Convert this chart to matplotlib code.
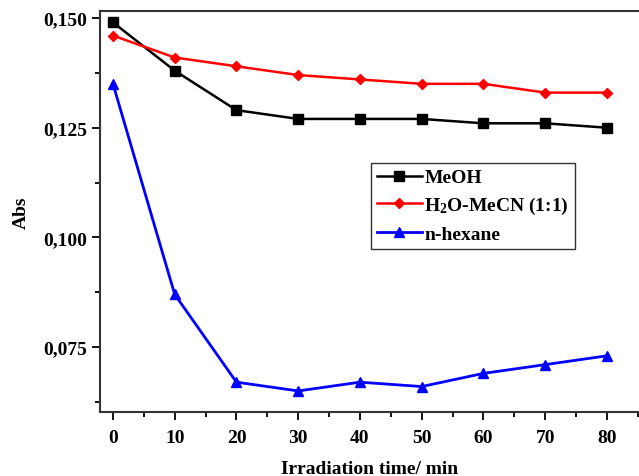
import matplotlib
matplotlib.use("Agg")
import matplotlib.pyplot as plt
from matplotlib.ticker import FuncFormatter, MultipleLocator

time_min = [0, 10, 20, 30, 40, 50, 60, 70, 80]
abs_meoh = [0.149, 0.138, 0.129, 0.127, 0.127, 0.127, 0.126, 0.126, 0.125]
abs_h2o_mecn = [0.146, 0.141, 0.139, 0.137, 0.136, 0.135, 0.135, 0.133, 0.133]
abs_hexane = [0.135, 0.087, 0.067, 0.065, 0.067, 0.066, 0.069, 0.071, 0.073]

labels = ["MeOH", r"H$_\mathbf{2}$O-MeCN (1:1)", "n-hexane"]

plt.rcParams["font.family"] = ["Liberation Serif", "DejaVu Serif"]
plt.rcParams["font.weight"] = "bold"
plt.rcParams["mathtext.fontset"] = "custom"
plt.rcParams["mathtext.rm"] = "Liberation Serif:bold"
plt.rcParams["mathtext.bf"] = "Liberation Serif:bold"
plt.rcParams["mathtext.default"] = "bf"

fig = plt.figure(figsize=(6.39, 4.77), dpi=100)
ax = fig.add_axes([100 / 639, 1 - 413 / 477, 1 - 100 / 639, (413 - 12) / 477])

ax.plot(time_min, abs_meoh, color="black", marker="s", markersize=6.5, lw=1.8, label=labels[0])
ax.plot(time_min, abs_h2o_mecn, color="red", marker="D", markersize=5.5, lw=1.8, label=labels[1])
ax.plot(time_min, abs_hexane, color="blue", marker="^", markersize=7.5, lw=2.0, label=labels[2])

ax.set_xlim(-2.1, 85.2)
ax.set_ylim(0.0602, 0.1516)

ax.xaxis.set_major_locator(MultipleLocator(10))
ax.xaxis.set_minor_locator(MultipleLocator(5))
ax.yaxis.set_major_locator(MultipleLocator(0.025))
ax.yaxis.set_minor_locator(MultipleLocator(0.0125))
ax.yaxis.set_major_formatter(FuncFormatter(lambda v, p: f"{v:.3f}".replace(".", ",")))

ax.tick_params(which="major", direction="out", length=6, width=1.3, labelsize=14, pad=3)
ax.tick_params(which="minor", direction="out", length=3.5, width=1.3)
ax.tick_params(axis="x", pad=6)
for lab in ax.get_xticklabels() + ax.get_yticklabels():
    lab.set_fontweight("bold")

for side in ["left", "bottom", "top"]:
    ax.spines[side].set_linewidth(1.5)
    ax.spines[side].set_color("#333333")
ax.spines["right"].set_visible(False)

ax.set_xlabel("Irradiation time/ min", fontsize=14, fontweight="bold", labelpad=10)
ax.set_ylabel("Abs", fontsize=14, fontweight="bold", labelpad=10)

leg = ax.legend(loc="upper left", bbox_to_anchor=((371 - 100) / 539, 1 - (164 - 12) / 401),
                fontsize=14, frameon=True, fancybox=False, edgecolor="black",
                handlelength=2.3, handletextpad=0.15, borderpad=0.3, labelspacing=0.45,
                borderaxespad=0)
leg.get_frame().set_linewidth(1.0)
for t in leg.get_texts():
    t.set_fontweight("bold")

fig.savefig("out.png", dpi=100)
